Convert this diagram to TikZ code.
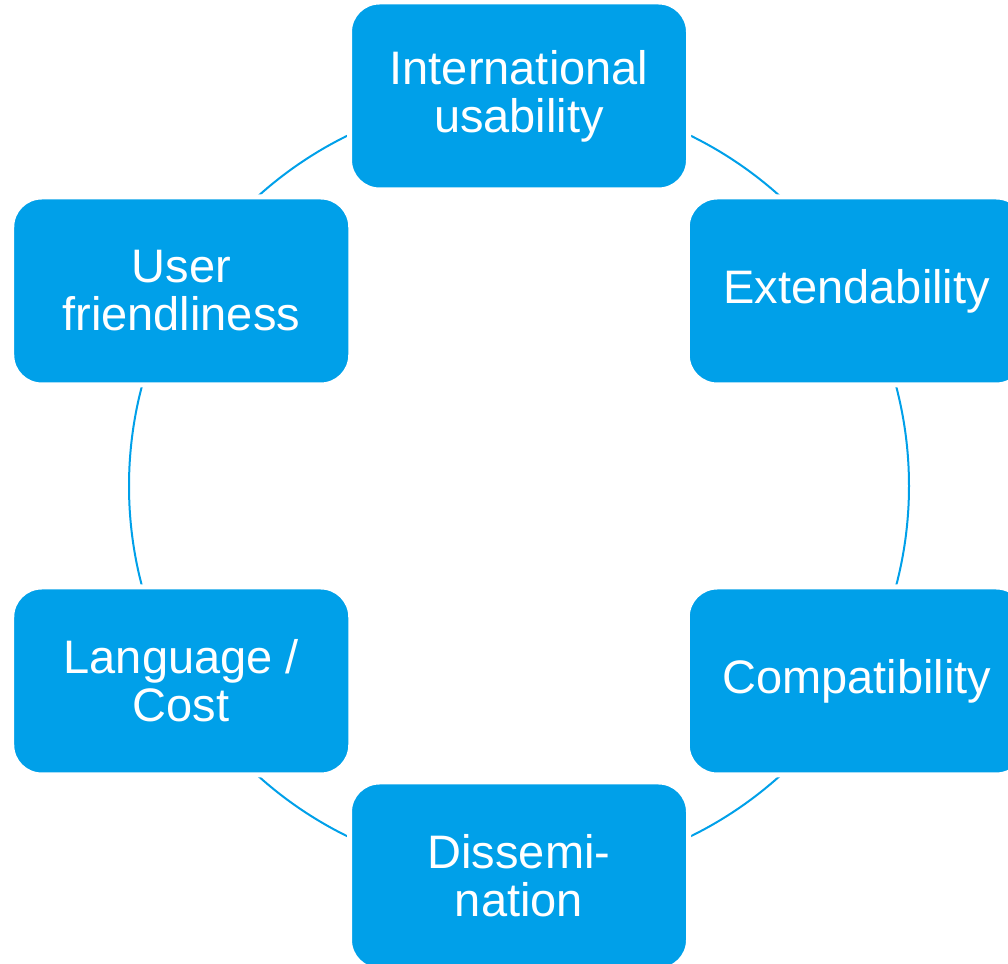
\documentclass[tikz,border=0pt]{standalone}
\usepackage{fontspec}
\setmainfont{Liberation Sans}
\usetikzlibrary{positioning}
\definecolor{cycleblue}{RGB}{0,160,233}

\begin{document}
\begin{tikzpicture}[x=0.5pt,y=0.5pt,semithick]
\tikzstyle{every node}=[font=\fontsize{23.5pt}{24pt}\selectfont]
\tikzstyle{topic}=[rectangle,rounded corners=15pt,fill=cycleblue,draw=white,
  line width=2.5pt,text=white,align=center,minimum width=169.5pt,
  minimum height=94pt,inner sep=0pt]

\useasboundingbox (0,0) rectangle (1008,964);
\coordinate (hub) at (519,478);

% ring behind the boxes
\draw[cycleblue,line width=1pt] (hub) circle[radius=390];

\node[topic] (intl)   at ([shift={(90:390)}]hub)   {International\\usability};
\node[topic] (ext)    at ([shift={(30:390)}]hub)   {Extendability};
\node[topic] (compat) at ([shift={(-30:390)}]hub)  {Compatibility};
\node[topic] (dissem) at ([shift={(-90:390)}]hub)  {Dissemi-\\nation};
\node[topic] (lang)   at ([shift={(-150:390)}]hub) {Language /\\Cost};
\node[topic] (user)   at ([shift={(150:390)}]hub)  {User\\friendliness};
\end{tikzpicture}
\end{document}
